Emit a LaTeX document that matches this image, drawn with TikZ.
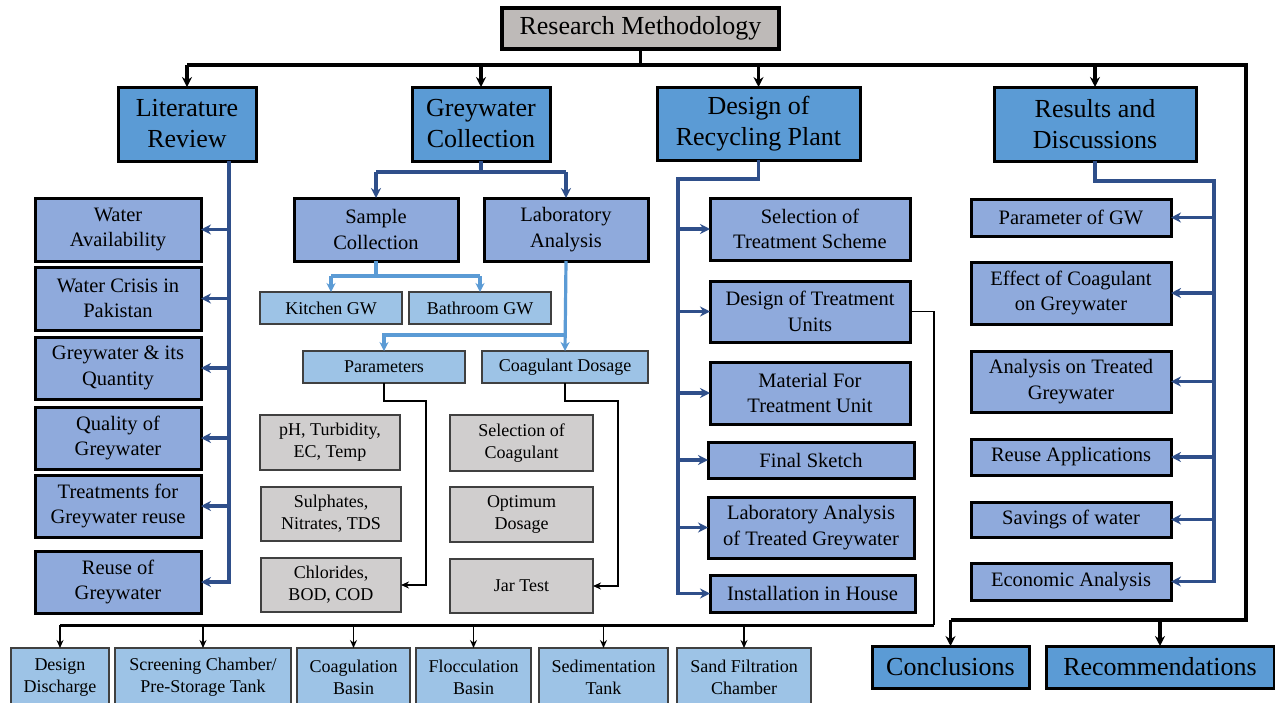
\documentclass[tikz,border=0pt]{standalone}
\usepackage{fontspec}
\setmainfont{Liberation Serif}
\usetikzlibrary{arrows.meta}

\definecolor{rootgrey}{HTML}{BEBAB8}
\definecolor{mainblue}{HTML}{5B9BD5}
\definecolor{midblue}{HTML}{8FAADC}
\definecolor{lightblue}{HTML}{9DC3E6}
\definecolor{boxgrey}{HTML}{D0CECE}
\definecolor{navy}{HTML}{2F4F8A}
\definecolor{edgegrey}{HTML}{404040}

% box from its corners: name, x1, y1, x2, y2, style, text
\newcommand{\mybox}[7]{%
  \node[#6, minimum width={#4-#2}, minimum height={#5-#3}] (#1) at ({(#2+#4)/2},{(#3+#5)/2}) {#7};}

\tikzset{
  anybox/.style={align=center, inner sep=0pt, outer sep=0pt},
  rootbox/.style={anybox, fill=rootgrey, draw=black, line width=3.2pt, font=\fontsize{26}{31}\selectfont},
  mainbox/.style={anybox, fill=mainblue, draw=black, line width=3pt, font=\fontsize{26}{31}\selectfont},
  subbox/.style={anybox, fill=midblue, draw=black, line width=3pt, font=\fontsize{20.5}{25.5}\selectfont},
  lightbox/.style={anybox, fill=lightblue, draw=edgegrey, line width=1.4pt, font=\fontsize{18}{22}\selectfont},
  greybox/.style={anybox, fill=boxgrey, draw=edgegrey, line width=1.6pt, font=\fontsize{18}{22}\selectfont},
  blk/.style={draw=black, line width=3.2pt},
  blkarr/.style={blk, -{Stealth[length=10pt,width=10pt]}},
  thinblk/.style={draw=black, line width=1.8pt},
  thinarr/.style={thinblk, -{Stealth[length=8pt,width=7pt]}},
  nv/.style={draw=navy, line width=3.4pt},
  nvarr/.style={nv, -{Stealth[length=10pt,width=10pt]}},
  lb/.style={draw=mainblue, line width=3.2pt},
  lbarr/.style={lb, -{Stealth[length=9pt,width=9pt]}},
}

\begin{document}
\begin{tikzpicture}[x=1pt, y=-1pt]
\fill[white] (0,0) rectangle (1275,702);
\useasboundingbox (0,0) rectangle (1275,702);

% top level
\mybox{rm}{502}{8}{779}{49}{rootbox}{Research Methodology}
\mybox{lr}{118}{87}{256}{161}{mainbox}{Literature\\Review}
\mybox{gc}{412}{87}{550}{161}{mainbox}{Greywater\\Collection}
\mybox{drp}{657}{87}{860}{160}{mainbox}{Design of\\Recycling Plant}
\mybox{rd}{994}{87}{1196}{161}{mainbox}{Results and\\Discussions}
\mybox{con}{872}{646}{1029}{688}{mainbox}{Conclusions}
\mybox{rec}{1046}{646}{1274}{688}{mainbox}{Recommendations}

% literature review topics
\mybox{wa}{35}{198}{201}{261}{subbox}{Water\\Availability}
\mybox{wc}{35}{267}{201}{330}{subbox}{Water Crisis in\\Pakistan}
\mybox{gq}{35}{337}{201}{399}{subbox}{Greywater \& its\\Quantity}
\mybox{qg}{35}{407}{201}{469}{subbox}{Quality of\\Greywater}
\mybox{tg}{35}{475}{201}{537}{subbox}{Treatments for\\Greywater reuse}
\mybox{rg}{35}{551}{201}{613}{subbox}{Reuse of\\Greywater}

% greywater collection
\mybox{sc}{294}{198}{458}{261}{subbox}{Sample\\Collection}
\mybox{la}{484}{198}{648}{261}{subbox}{Laboratory\\Analysis}
\mybox{kg}{260}{292}{402}{324}{lightbox}{Kitchen GW}
\mybox{bg}{409}{292}{551}{324}{lightbox}{Bathroom GW}
\mybox{par}{303}{351}{465}{383}{lightbox}{Parameters}
\mybox{cd}{482}{351}{648}{383}{lightbox}{Coagulant Dosage}
\mybox{ph}{260}{415}{400}{470}{greybox}{pH, Turbidity,\\EC, Temp}
\mybox{su}{261}{487}{401}{541}{greybox}{Sulphates,\\Nitrates, TDS}
\mybox{ch}{261}{558}{401}{612}{greybox}{Chlorides,\\BOD, COD}
\mybox{soc}{450}{415}{593}{471}{greybox}{Selection of\\Coagulant}
\mybox{od}{450}{487}{593}{542}{greybox}{Optimum\\Dosage}
\mybox{jt}{450}{559}{593}{613}{greybox}{Jar Test}

% design of recycling plant
\mybox{sel}{710}{198}{910}{260}{subbox}{Selection of\\Treatment Scheme}
\mybox{dtu}{710}{281}{910}{342}{subbox}{Design of Treatment\\Units}
\mybox{mat}{710}{362}{910}{424}{subbox}{Material For\\Treatment Unit}
\mybox{fs}{708}{442}{914}{478}{subbox}{Final Sketch}
\mybox{lat}{708}{497}{914}{558}{subbox}{Laboratory Analysis\\of Treated Greywater}
\mybox{inst}{710}{575}{915}{612}{subbox}{Installation in House}

% results and discussions
\mybox{pgw}{971}{199}{1171}{236}{subbox}{Parameter of GW}
\mybox{ecg}{971}{262}{1171}{324}{subbox}{Effect of Coagulant\\on Greywater}
\mybox{atg}{971}{351}{1171}{412}{subbox}{Analysis on Treated\\Greywater}
\mybox{ra}{971}{439}{1171}{475}{subbox}{Reuse Applications}
\mybox{sw}{971}{502}{1171}{537}{subbox}{Savings of water}
\mybox{ea}{971}{563}{1171}{600}{subbox}{Economic Analysis}

% treatment units
\mybox{dd}{11}{648}{109}{706}{lightbox}{Design\\Discharge}
\mybox{scr}{115}{648}{291}{706}{lightbox}{Screening Chamber/\\Pre-Storage Tank}
\mybox{cb}{297}{648}{410}{706}{lightbox}{Coagulation\\Basin}
\mybox{fb}{416}{648}{531}{706}{lightbox}{Flocculation\\Basin}
\mybox{st}{539}{648}{668}{706}{lightbox}{Sedimentation\\Tank}
\mybox{sf}{677}{648}{811}{706}{lightbox}{Sand Filtration\\Chamber}

% main distribution bar
\coordinate (bar) at (0,65);
\coordinate (rc) at (1246,65);
\coordinate (rb) at (1246,620);
\draw[blk] (rm.south) -- (rm.south |- bar);
\draw[blk] (lr.north |- bar) -- (rc) -- (rb) -- (con.north |- rb);
\foreach \n in {lr,gc,drp,rd}
  \draw[blkarr] (\n.north |- bar) -- (\n.north);
\foreach \n in {con,rec}
  \draw[blkarr] (\n.north |- rb) -- (\n.north);

% literature review spine
\coordinate (lsp) at (229,0);
\draw[nvarr] (lr.south -| lsp) |- (rg.east);
\foreach \n in {wa,wc,gq,qg,tg}
  \draw[nvarr] (\n.east -| lsp) -- (\n.east);

% greywater collection split
\coordinate (gcbar) at (0,172);
\draw[nv] (gc.south) -- (gc.south |- gcbar);
\draw[nv] (sc.north |- gcbar) -- (la.north |- gcbar);
\foreach \n in {sc,la}
  \draw[nvarr] (\n.north |- gcbar) -- (\n.north);

% sample collection split
\coordinate (scbar) at (0,276);
\draw[lb] (sc.south) -- (sc.south |- scbar);
\draw[lb] (kg.north |- scbar) -- (bg.north |- scbar);
\foreach \n in {kg,bg}
  \draw[lbarr] (\n.north |- scbar) -- (\n.north);

% laboratory analysis split
\coordinate (labar) at (0,335);
\draw[lbarr] (la.south) -- (cd.north);
\draw[lbarr] (la.south |- labar) -| (par.north);

% parameter and dosage leaders
\coordinate (pk) at (426,401);
\coordinate (ck) at (618,401);
\draw[thinarr] (par.south) |- (pk) |- (ch.east);
\draw[thinarr] (cd.south) |- (ck) |- (jt.east);

% design spine
\coordinate (dbar) at (678,179);
\draw[nvarr] (drp.south) |- (dbar) |- (inst.west);
\foreach \n in {sel,dtu,mat,fs,lat}
  \draw[nvarr] (\n.west -| dbar) -- (\n.west);

% results spine
\coordinate (rbar) at (1214,181);
\draw[nvarr] (rd.south) |- (rbar) |- (ea.east);
\foreach \n in {pgw,ecg,atg,ra,sw}
  \draw[nvarr] (\n.east -| rbar) -- (\n.east);

% treatment units feed
\coordinate (dk) at (934,625);
\draw[thinblk] (dtu.east) -| (dk);
\draw[draw=black, line width=3pt] (dk) -- (dd.north |- dk);
\foreach \n in {dd,scr,cb,fb,st,sf}
  \draw[thinarr] (\n.north |- dk) -- (\n.north);
\end{tikzpicture}
\end{document}
